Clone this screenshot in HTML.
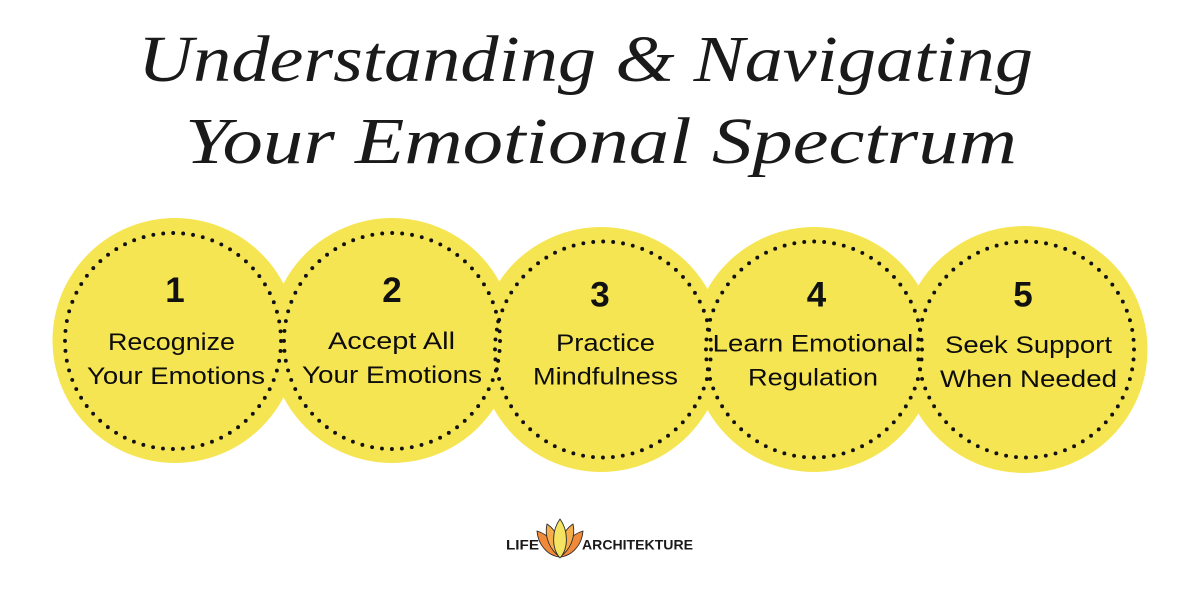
<!DOCTYPE html>
<html>
<head>
<meta charset="utf-8">
<style>
  html,body{margin:0;padding:0;background:#fff;}
  svg{display:block;}
</style>
</head>
<body>
<svg width="1200" height="600" viewBox="0 0 1200 600" xmlns="http://www.w3.org/2000/svg">
  <rect width="1200" height="600" fill="#ffffff"/>

  <!-- Title -->
  <g font-family="'Liberation Serif', serif" font-style="italic" fill="#1a1a1a">
    <text x="138" y="81" font-size="66" textLength="895" lengthAdjust="spacingAndGlyphs">Understanding &amp; Navigating</text>
    <text x="185" y="163" font-size="66" textLength="832" lengthAdjust="spacingAndGlyphs">Your Emotional Spectrum</text>
  </g>

  <!-- Circle fills -->
  <g fill="#F6E553">
    <circle cx="175" cy="340.5" r="122.5"/>
    <circle cx="392" cy="340.5" r="122.5"/>
    <circle cx="601" cy="349.5" r="122.5"/>
    <circle cx="814" cy="349.5" r="122.5"/>
    <circle cx="1024" cy="349.5" r="123.5"/>
  </g>

  <!-- Dotted rings -->
  <g fill="none" stroke="#111" stroke-width="3.9" stroke-linecap="round" stroke-dasharray="0 9.979">
    <circle cx="173" cy="341" r="108"/>
    <circle cx="392" cy="341" r="108"/>
    <circle cx="603" cy="349.5" r="108"/>
    <circle cx="814" cy="349.5" r="108"/>
    <circle cx="1026" cy="349.5" r="108"/>
  </g>

  <!-- Numbers -->
  <g font-family="'Liberation Sans', sans-serif" font-weight="bold" font-size="35" fill="#111" text-anchor="middle">
    <text x="175" y="302">1</text>
    <text x="392" y="302">2</text>
    <text x="600" y="306.5">3</text>
    <text x="816.5" y="306.5">4</text>
    <text x="1023" y="306.5">5</text>
  </g>

  <!-- Labels -->
  <g font-family="'Liberation Sans', sans-serif" font-size="24" fill="#0d0d0d" text-anchor="middle">
    <text x="171.5" y="350" textLength="127" lengthAdjust="spacingAndGlyphs">Recognize</text>
    <text x="176" y="384" textLength="178" lengthAdjust="spacingAndGlyphs">Your Emotions</text>

    <text x="391.5" y="349" textLength="127" lengthAdjust="spacingAndGlyphs">Accept All</text>
    <text x="392" y="383" textLength="180" lengthAdjust="spacingAndGlyphs">Your Emotions</text>

    <text x="605.5" y="351" textLength="99" lengthAdjust="spacingAndGlyphs">Practice</text>
    <text x="605.5" y="384.5" textLength="145" lengthAdjust="spacingAndGlyphs">Mindfulness</text>

    <text x="813" y="351.7" textLength="200.6" lengthAdjust="spacingAndGlyphs">Learn Emotional</text>
    <text x="813" y="385.7" textLength="130" lengthAdjust="spacingAndGlyphs">Regulation</text>

    <text x="1028.5" y="353" textLength="167" lengthAdjust="spacingAndGlyphs">Seek Support</text>
    <text x="1028.5" y="387" textLength="177" lengthAdjust="spacingAndGlyphs">When Needed</text>
  </g>

  <!-- Logo -->
  <g font-family="'Liberation Sans', sans-serif" font-weight="bold" font-size="14" fill="#1a1a1a">
    <text x="506" y="549.5" textLength="33" lengthAdjust="spacingAndGlyphs">LIFE</text>
    <text x="582" y="549.5" textLength="111" lengthAdjust="spacingAndGlyphs">ARCHITEKTURE</text>
  </g>
  <g stroke="#2a2a2a" stroke-width="0.9" stroke-linejoin="round">
    <path d="M560,557 C548,556 538,545 537,531 C547,534 556,542 560,557 Z" fill="#F08A3A"/>
    <path d="M560,557 C572,556 582,545 583,531 C573,534 564,542 560,557 Z" fill="#F08A3A"/>
    <path d="M560,557 C550,550 544,537 547,524 C556,530 562,542 560,557 Z" fill="#F6AE4C"/>
    <path d="M560,557 C570,550 576,537 573,524 C564,530 558,542 560,557 Z" fill="#F6AE4C"/>
    <path d="M560,519 C568,530 569,548 560,558 C551,548 552,530 560,519 Z" fill="#F5E461"/>
  </g>
</svg>
</body>
</html>
